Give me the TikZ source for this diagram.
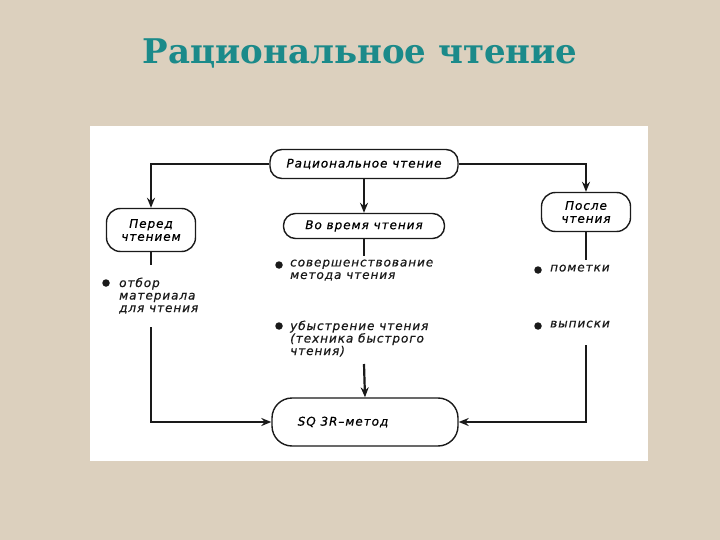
\documentclass[tikz,border=0pt]{standalone}
\usepackage{fontspec}
\usepackage{graphicx}
\usetikzlibrary{arrows.meta}
\newfontfamily\hand[LetterSpace=8,FakeBold=0.6]{DejaVu Sans}
\newfontfamily\titlefont{DejaVu Serif}
\definecolor{bgbeige}{HTML}{DCD0BE}
\definecolor{titleteal}{HTML}{1B8A8A}
\definecolor{inkc}{HTML}{1A1A1A}
\tikzset{
  box/.style={draw=inkc, line width=1.4pt, rounded corners=12pt, fill=white,
    align=center, font=\hand\itshape\fontsize{12}{13}\selectfont, inner sep=2pt},
  conn/.style={draw=inkc, line width=2.2pt},
  arr/.style={conn, -{Stealth[length=10pt,width=8pt]}},
  item/.style={anchor=north west, inner sep=0pt, align=left,
    font=\hand\itshape\fontsize{12}{12.5}\selectfont, text=inkc},
  dot/.style={circle, fill=inkc, inner sep=0pt, minimum size=7.5pt}
}
\begin{document}
\begin{tikzpicture}[x=1pt,y=-1pt]
\useasboundingbox (0,0) rectangle (720,540);
\fill[bgbeige] (0,0) rectangle (720,540);
\fill[white] (90,126) rectangle (648,461);
% title
\node (title) [anchor=base, text=titleteal, font=\titlefont\bfseries\fontsize{34}{34}\selectfont] at (360,64) {Рациональное чтение};
% boxes
\node (top) [box, minimum width=188pt, minimum height=29pt] at (364,164) {Рациональное чтение};
\node (pered) [box, minimum width=89pt, minimum height=43pt, rounded corners=14pt] at (151,230) {Перед\\чтением};
\node (vo) [box, minimum width=161pt, minimum height=25pt] at (364,226) {Во время чтения};
\node (posle) [box, minimum width=89pt, minimum height=39pt, rounded corners=14pt] at (586,212) {После\\чтения};
\node (sq) [box, minimum width=186pt, minimum height=48pt, rounded corners=20pt] at (365,422) {SQ 3R–метод\hspace*{44pt}};
% connectors from top
\draw[arr] (top.west) -| (pered.north);
\draw[arr] (top.east) -| (posle.north);
\draw[arr] (top.south) -- (vo.north);
% coordinates
\coordinate (pa) at (151,265);
\coordinate (pb) at (151,327);
\coordinate (va) at (364,256);
\coordinate (vb) at (364,364);
\coordinate (ra) at (586,260);
\coordinate (rb) at (586,345);
\draw[conn] (pered.south) -- (pa);
\draw[conn] (vo.south) -- (va);
\draw[conn] (posle.south) -- (ra);
\draw[arr] (pb) |- (sq.west);
\draw[arr] (vb) -- (sq.north);
\draw[arr] (rb) |- (sq.east);
% bullets
\node (d1) [dot] at (106,283) {};
\node (t1) [item] at (119,277.5) {отбор\\материала\\для чтения};
\node (d2) [dot] at (279,265) {};
\node (t2) [item] at (290,259.5) {совершенствование\\метода чтения};
\node (d3) [dot] at (279,326) {};
\node (t3) [item] at (290,320.5) {убыстрение чтения\\(техника быстрого\\чтения)};
\node (d4) [dot] at (538,270) {};
\node (t4) [item] at (550,264.5) {пометки};
\node (d5) [dot] at (538,326) {};
\node (t5) [item] at (550,320.5) {выписки};
\end{tikzpicture}
\end{document}
